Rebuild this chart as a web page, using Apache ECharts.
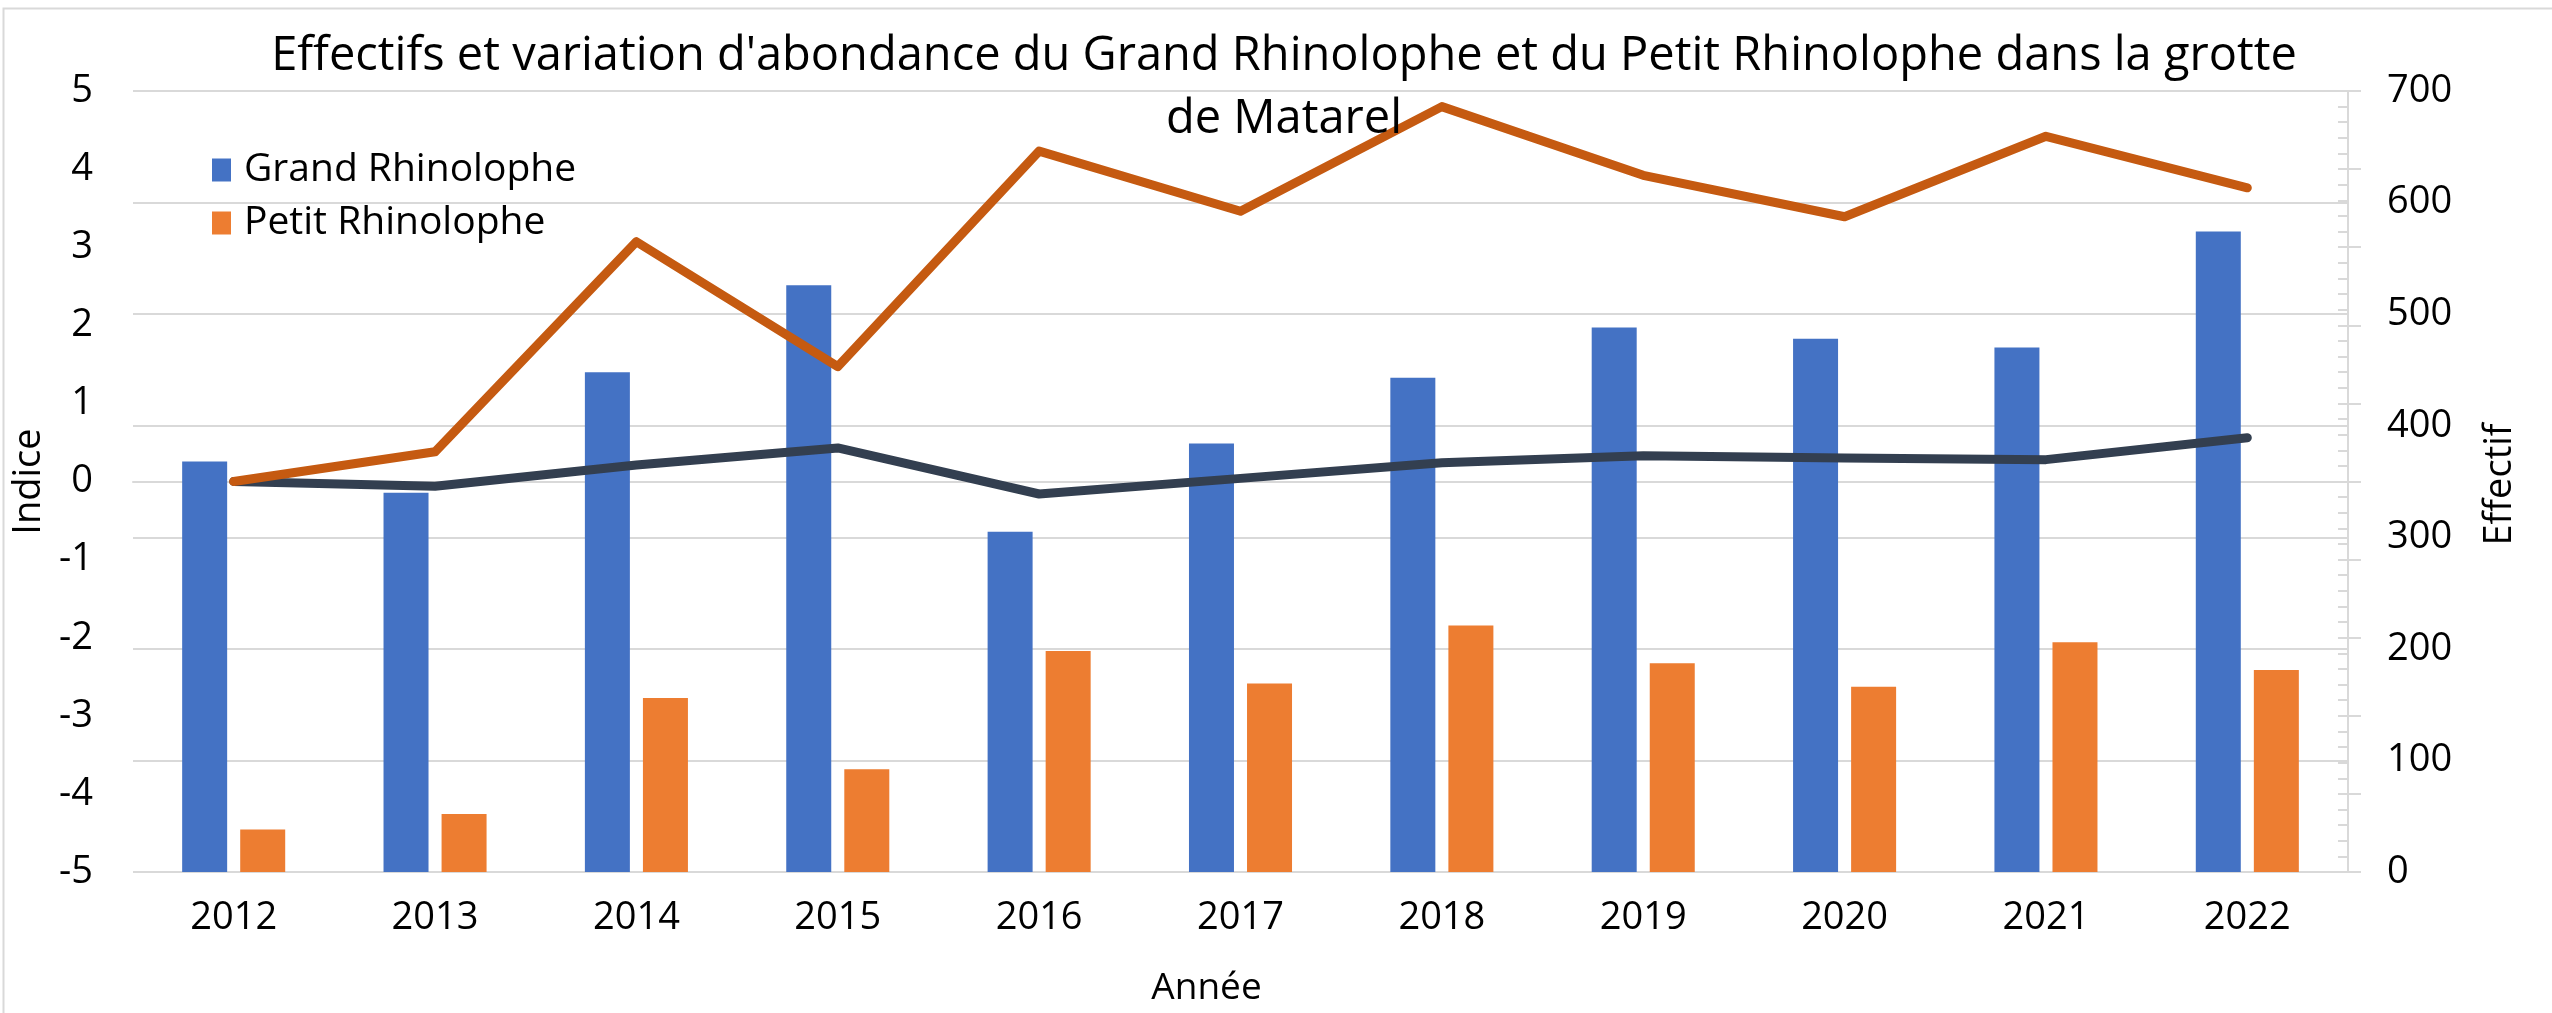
<!DOCTYPE html>
<html>
<head>
<meta charset="utf-8">
<script src="https://cdn.jsdelivr.net/npm/echarts@6/dist/echarts.min.js"></script>
<style>
  html, body { margin: 0; padding: 0; background: #fff; }
  #chart { width: 2552px; height: 1013px; }
</style>
</head>
<body>
<div id="chart"></div>
<script>
// values
const years = ['2012', '2013', '2014', '2015', '2016', '2017', '2018', '2019', '2020', '2021', '2022'];
const grandEffectif = [368, 340, 448, 526, 305, 384, 443, 488, 478, 470, 574];
const petitEffectif = [38, 52, 156, 92, 198, 169, 221, 187, 166, 206, 181];
const grandIndice = [0, -0.06, 0.21, 0.43, -0.16, 0.04, 0.24, 0.33, 0.30, 0.28, 0.56];
const petitIndice = [0, 0.38, 3.07, 1.47, 4.23, 3.46, 4.80, 3.92, 3.39, 4.42, 3.76];

const font = 'Open Sans';
const grey = '#d9d9d9';

const chart = echarts.init(document.getElementById('chart'));

// tick-only axes on the right side (ticks every 70, minor every 14)
function tickAxis(inside, len, minor) {
  return {
    type: 'value', position: 'right', min: 0, max: 700, interval: 70,
    axisLine: { show: false },
    axisLabel: { show: false },
    splitLine: { show: false },
    axisTick: { show: true, inside: inside, length: len, lineStyle: { color: grey, width: 2 } },
    minorTick: { show: minor, splitNumber: 5, length: 10, lineStyle: { color: grey, width: 2 } }
  };
}

const option = {
  backgroundColor: '#fff',
  animation: false,
  textStyle: { fontFamily: font },
  graphic: [{
    type: 'rect', left: 1, top: 6, silent: true,
    shape: { width: 2600, height: 1100 },
    style: { fill: 'none', stroke: grey, lineWidth: 2 }
  }],
  title: {
    text: "Effectifs et variation d'abondance du Grand Rhinolophe et du Petit Rhinolophe dans la grotte\nde Matarel",
    left: 1284, top: 25, padding: 0, textAlign: 'center',
    textStyle: { fontFamily: font, fontSize: 47, fontWeight: 'normal', color: '#000', lineHeight: 63 }
  },
  legend: {
    data: ['Grand Rhinolophe', 'Petit Rhinolophe'],
    orient: 'vertical', left: 212, top: 150, padding: 0,
    icon: 'rect', itemWidth: 19, itemHeight: 23, itemGap: 13,
    textStyle: { fontFamily: font, fontSize: 39, color: '#000', lineHeight: 40, padding: [0, 0, 0, 8] }
  },
  grid: { left: 133, right: 204, top: 91, bottom: 141, outerBoundsMode: 'none', containLabel: false },
  xAxis: {
    type: 'category', data: years,
    name: 'Année', nameLocation: 'middle', nameGap: 98,
    nameTextStyle: { fontFamily: font, fontSize: 37, color: '#000', padding: [0, 68, 0, 0] },
    axisLine: { lineStyle: { color: grey, width: 2 } },
    axisTick: { show: false },
    axisLabel: { fontFamily: font, fontSize: 38, color: '#000', margin: 27 }
  },
  yAxis: [{
    type: 'value', position: 'left', min: -5, max: 5, interval: 1,
    name: 'Indice', nameLocation: 'middle', nameGap: 84,
    nameTextStyle: { fontFamily: font, fontSize: 38, color: '#000' },
    axisLine: { show: false },
    axisTick: { show: false },
    splitLine: { show: false },
    axisLabel: { fontFamily: font, fontSize: 38, color: '#000', margin: 40, padding: [0, 0, 26, 0] }
  }, {
    type: 'value', position: 'right', min: 0, max: 700, interval: 100,
    name: 'Effectif', nameLocation: 'middle', nameGap: 133,
    nameTextStyle: { fontFamily: font, fontSize: 38, color: '#000', padding: [0, 6, 0, 0] },
    axisLine: { show: true, lineStyle: { color: grey, width: 2 } },
    axisTick: { show: false },
    splitLine: { show: true, lineStyle: { color: grey, width: 2 } },
    axisLabel: { fontFamily: font, fontSize: 38, color: '#000', margin: 39, padding: [0, 0, 24, 0] }
  },
  tickAxis(true, 10, true),
  tickAxis(false, 13, false)
  ],
  series: [{
    name: 'Grand Rhinolophe', type: 'bar', yAxisIndex: 1,
    barWidth: 45, barGap: '29%',
    itemStyle: { color: '#4472c4' },
    data: grandEffectif
  }, {
    name: 'Petit Rhinolophe', type: 'bar', yAxisIndex: 1,
    barWidth: 45, barGap: '29%',
    itemStyle: { color: '#ed7d31' },
    data: petitEffectif
  }, {
    name: 'Indice Grand Rhinolophe', type: 'line', yAxisIndex: 0,
    showSymbol: false, z: 3,
    lineStyle: { color: '#333f50', width: 9, cap: 'round', join: 'round' },
    data: grandIndice
  }, {
    name: 'Indice Petit Rhinolophe', type: 'line', yAxisIndex: 0,
    showSymbol: false, z: 4,
    lineStyle: { color: '#c55a11', width: 9, cap: 'round', join: 'round' },
    data: petitIndice
  }]
};

chart.setOption(option);
</script>
</body>
</html>
